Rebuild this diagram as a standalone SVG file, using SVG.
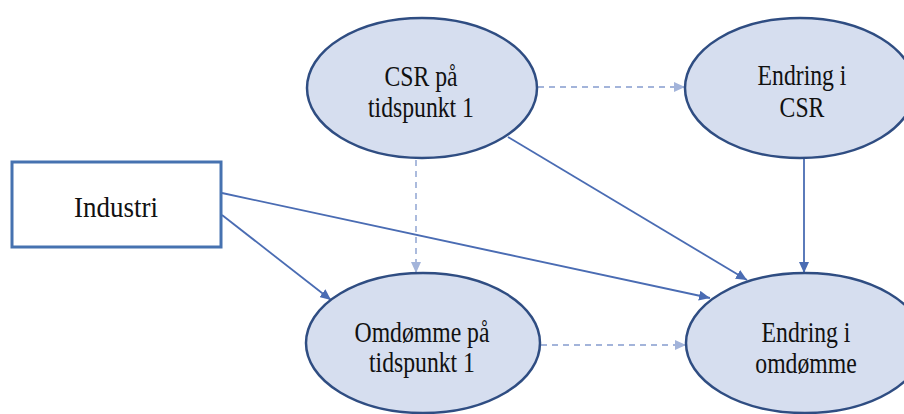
<svg xmlns="http://www.w3.org/2000/svg" width="904" height="414" viewBox="0 0 904 414">
<style>
.node ellipse{fill:#d6deef;stroke:#2f4d82;stroke-width:2.5}
.box{fill:#ffffff;stroke:#4672b0;stroke-width:3}
.t{font-family:"Liberation Serif","Times New Roman",serif;font-size:30px;fill:#111111;text-anchor:middle}
.solid{stroke:#4a6cb3;stroke-width:1.8;fill:none;marker-end:url(#ah)}
.dash{stroke:#a3b4da;stroke-width:1.8;fill:none;stroke-dasharray:6 5;marker-end:url(#ahd)}
</style>
<defs>
<marker id="ah" markerUnits="userSpaceOnUse" markerWidth="12" markerHeight="10" refX="11" refY="5" orient="auto"><path d="M0,0 L11,5 L0,10 Z" fill="#4a6cb3"/></marker>
<marker id="ahd" markerUnits="userSpaceOnUse" markerWidth="12" markerHeight="10" refX="11" refY="5" orient="auto"><path d="M0,0 L11,5 L0,10 Z" fill="#a3b4da"/></marker>
</defs>
<rect width="904" height="414" fill="#ffffff"/>
<g id="connectors">
<line class="dash" x1="538" y1="87" x2="685" y2="87"/>
<line class="dash" x1="416" y1="160" x2="416" y2="273"/>
<line class="dash" x1="541" y1="345" x2="686" y2="345"/>
<line class="solid" x1="222" y1="193" x2="710" y2="298"/>
<line class="solid" x1="222" y1="215" x2="331" y2="300"/>
<line class="solid" x1="508" y1="137" x2="747" y2="280"/>
<line class="solid" x1="804" y1="159" x2="804" y2="273"/>
</g>
<g id="industri">
<rect class="box" x="12" y="162" width="209" height="85"/>
<text class="t" transform="translate(116,217) scale(0.9,1)">Industri</text>
</g>
<g id="csr1" class="node">
<ellipse cx="422" cy="88" rx="115" ry="70"/>
<text class="t" transform="translate(421,86) scale(0.79,1)">CSR på</text>
<text class="t" transform="translate(421,117) scale(0.79,1)">tidspunkt 1</text>
</g>
<g id="endringcsr" class="node">
<ellipse cx="800" cy="88" rx="115" ry="70"/>
<text class="t" transform="translate(802,85) scale(0.79,1)">Endring i</text>
<text class="t" transform="translate(802,117) scale(0.79,1)">CSR</text>
</g>
<g id="omdomme1" class="node">
<ellipse cx="423" cy="343" rx="117" ry="70"/>
<text class="t" transform="translate(422,342) scale(0.79,1)">Omdømme på</text>
<text class="t" transform="translate(422,372) scale(0.79,1)">tidspunkt 1</text>
</g>
<g id="endringomdomme" class="node">
<ellipse cx="805" cy="343" rx="119" ry="70"/>
<text class="t" transform="translate(806,342) scale(0.79,1)">Endring i</text>
<text class="t" transform="translate(806,373) scale(0.79,1)">omdømme</text>
</g>
</svg>
